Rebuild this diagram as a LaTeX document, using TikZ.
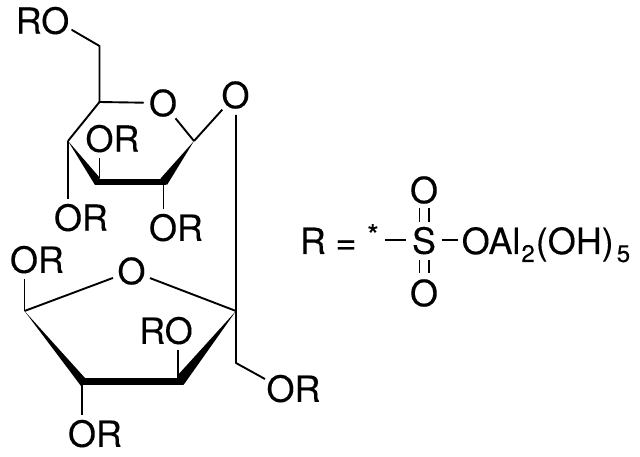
\documentclass[tikz,border=0pt]{standalone}
\usepackage{fontspec}
\setmainfont{TeX Gyre Heros}[FakeBold=0.12]
\begin{document}
\begin{tikzpicture}[x=1pt,y=-1pt,
  bond/.style={draw=black,line width=1.9pt,line cap=butt},
  bold/.style={draw=black,line width=6.8pt,line cap=butt},
  wedge/.style={fill=black,draw=none},
  lab/.style={font=\fontsize{36}{40}\selectfont,inner xsep=0pt,inner ysep=6pt,text height=25.5pt,text depth=0pt},
  atom/.style={font=\fontsize{36}{40}\selectfont,circle,minimum size=37.5pt,inner sep=0pt},
  satom/.style={font=\fontsize{36}{40}\selectfont,inner xsep=5.5pt,inner ysep=6pt,text height=25.5pt,text depth=0pt},
  base/.style={font=\fontsize{36}{40}\selectfont,inner sep=0pt}]
\useasboundingbox[fill=white] (0,0) rectangle (640,457);
% pyranose ring atoms
\coordinate (c6) at (99.5,46);
\coordinate (c5) at (99.5,102);
\coordinate (c4) at (68,141);
\coordinate (c3) at (99.5,178);
\coordinate (c2) at (163.5,182);
\coordinate (c1) at (194,141);
\node[atom] (o5) at (163,103) {O};
\node[atom] (ogly) at (235.5,95) {O};
\node[lab] (ro6) at (42.5,21) {RO};
\coordinate (ro6end) at (72,30);
\node[lab] (or3) at (112.5,139) {OR};
\node[lab] (or4) at (81,218) {OR};
\node[lab] (or2) at (176,228) {OR};
% furanose ring atoms
\coordinate (d2) at (236,311);
\coordinate (d3) at (178,378);
\coordinate (d4) at (82,382);
\coordinate (d5) at (24.5,311);
\coordinate (d1) at (236,363);
\coordinate (orend) at (265,379);
\node[atom] (o2) at (131.5,271) {O};
\node[lab] (ortop) at (37,260) {OR};
\node[lab] (ro3) at (166,331) {RO};
\node[lab] (orbot) at (95,434) {OR};
\node[lab] (orright) at (293.5,389) {OR};
% upper ring bonds
\draw[bond,line cap=round,line join=round] (ro6end) -- (c6) -- (c5) -- (o5);
\draw[bond] (o5) -- (c1);
\draw[bond] (c1) -- (ogly);
\draw[bond] (c5) -- (c4);
\fill[wedge] (c4) -- (100,178) -- (95,185) -- cycle;
\fill[wedge] (c1) -- (167,185) -- (160.5,178.5) -- cycle;
\draw[bold] (95,182) -- (166,182);
\draw[bond] (c4) -- (c4 |- or4.north);
\draw[bond] (c3) -- (c3 |- or3.south);
\draw[bond] (c2) -- (c2 |- or2.north);
% glycosidic link and lower ring bonds
\draw[bond,line join=round] (ogly.south -| d2) -- (d2) -- (d1) -- (orend);
\draw[bond] (d5) -- (o2);
\draw[bond] (d2) -- (o2);
\draw[bond] (d5) -- (d5 |- ortop.south);
\fill[wedge] (d5) -- (85,378) -- (81,386) -- cycle;
\fill[wedge] (d2) -- (183.5,385) -- (177,376) -- cycle;
\draw[bold] (81,381.8) -- (183,381.8);
\draw[bond] (d3) -- (d3 |- ro3.south);
\draw[bond] (d4) -- (d4 |- orbot.north);
% R definition
\node[base,anchor=base] (rdef) at (313,254) {R};
\node[base,anchor=base] (eq) at (346,254) {=};
\node[font=\fontsize{30}{36}\selectfont,inner sep=0pt] (star) at (373,235) {*};
\node[satom] (s) at (424,241) {S};
\node[atom] (otop) at (424,190) {O};
\node[atom] (obot) at (424,293) {O};
\node[base,anchor=base west] (tail) at (461.5,254) {OAl\kern1pt\raisebox{-8pt}{\fontsize{24}{28}\selectfont 2}\kern1pt(OH)\kern3pt\raisebox{-8pt}{\fontsize{24}{28}\selectfont 5}};
\coordinate (bl) at (385,240);
\coordinate (br) at (458,240);
\draw[bond] (bl) -- (s.west |- bl);
\draw[bond] (s.east |- br) -- (br);
\draw[bond] (419.5,208) -- (419.5,222);
\draw[bond] (429,208) -- (429,222);
\draw[bond] (419.5,260) -- (419.5,273);
\draw[bond] (429,260) -- (429,273);
\end{tikzpicture}
\end{document}
